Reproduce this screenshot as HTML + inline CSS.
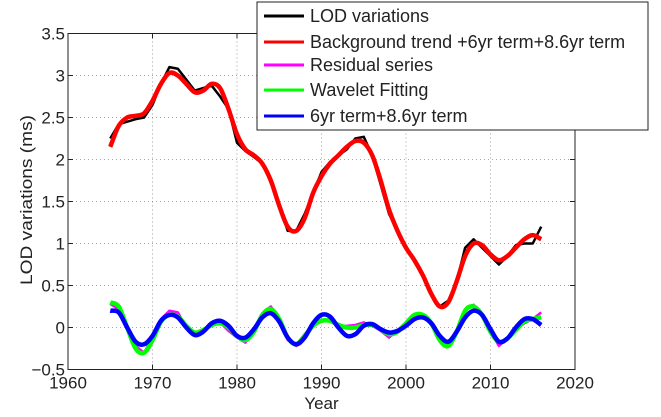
<!DOCTYPE html>
<html><head><meta charset="utf-8"><style>
body{margin:0;background:#fff;}
svg text{font-family:"Liberation Sans",sans-serif;fill:#222;}
</style></head><body>
<svg id="c" width="661" height="412"></svg>
<script>
const years=[];for(let y=1965;y<=2016;y++)years.push(y);
const lod=[2.25,2.42,2.45,2.48,2.5,2.65,2.9,3.1,3.08,2.95,2.82,2.85,2.88,2.75,2.6,2.2,2.1,2.03,1.95,1.75,1.45,1.15,1.15,1.35,1.6,1.85,1.97,2.05,2.12,2.25,2.27,2.05,1.7,1.35,1.15,0.95,0.8,0.6,0.38,0.25,0.32,0.55,0.95,1.05,0.95,0.85,0.75,0.85,0.98,1.0,1.0,1.2];
const trend=[2.15,2.4,2.5,2.52,2.55,2.7,2.9,3.03,3.0,2.9,2.8,2.82,2.9,2.85,2.6,2.3,2.12,2.05,1.95,1.75,1.45,1.2,1.15,1.3,1.6,1.8,1.95,2.05,2.15,2.22,2.2,2.05,1.75,1.4,1.15,0.95,0.8,0.62,0.4,0.25,0.3,0.55,0.85,1.0,0.98,0.87,0.8,0.85,0.95,1.05,1.1,1.05];
const residual=[0.28,0.22,0.02,-0.22,-0.3,-0.12,0.1,0.2,0.18,0.0,-0.08,-0.02,0.02,0.06,-0.04,-0.12,-0.18,-0.03,0.17,0.25,0.1,-0.15,-0.22,-0.08,0.03,0.07,0.1,0.02,0.02,0.03,0.06,0.02,-0.04,-0.12,-0.03,0.06,0.16,0.14,0.03,-0.17,-0.2,-0.03,0.22,0.27,0.13,-0.05,-0.22,-0.12,-0.02,0.05,0.1,0.18];
const wavelet=[0.3,0.25,0.0,-0.25,-0.3,-0.15,0.07,0.15,0.13,0.02,-0.06,-0.03,0.03,0.05,0.0,-0.1,-0.15,-0.05,0.15,0.22,0.1,-0.12,-0.2,-0.1,0.02,0.08,0.08,0.03,0.0,0.0,0.03,0.03,-0.02,-0.08,-0.05,0.05,0.15,0.15,0.05,-0.15,-0.22,-0.05,0.2,0.25,0.15,-0.05,-0.17,-0.13,-0.03,0.07,0.1,0.12];
const terms=[0.2,0.18,0.0,-0.17,-0.2,-0.1,0.08,0.15,0.12,0.0,-0.09,-0.05,0.05,0.08,0.02,-0.1,-0.12,-0.02,0.12,0.17,0.07,-0.12,-0.2,-0.12,0.05,0.15,0.13,0.0,-0.1,-0.08,0.02,0.04,-0.02,-0.06,-0.04,0.02,0.1,0.12,0.05,-0.1,-0.17,-0.05,0.12,0.2,0.15,-0.02,-0.17,-0.13,0.0,0.1,0.1,0.03];
const xTicks=[1960,1970,1980,1990,2000,2010,2020];
const yTicks=[-0.5,0,0.5,1,1.5,2,2.5,3,3.5];
const yLabels=["\u22120.5","0","0.5","1","1.5","2","2.5","3","3.5"];
const legendNames=["LOD variations","Background trend +6yr term+8.6yr term","Residual series","Wavelet Fitting","6yr term+8.6yr term"];

const L=68,R=575,T=33.5,B=369.5;
const sx=v=>L+(v-1960)/60*(R-L);
const sy=v=>B-(v+0.5)/4*(B-T);
const svg=document.getElementById('c');
const NS='http://www.w3.org/2000/svg';
function mk(tag,at,parent){const e=document.createElementNS(NS,tag);for(const k in at)e.setAttribute(k,at[k]);(parent||svg).appendChild(e);return e;}

xTicks.forEach((t,i)=>{
 if(i>0&&i<xTicks.length-1){const g=mk('line',{x1:sx(t),x2:sx(t),y1:T,y2:B,stroke:'#888','stroke-width':0.8,'stroke-dasharray':'1,3'});
 
 }
 const tl=mk('text',{x:sx(t),y:B+19,'text-anchor':'middle','font-size':17});tl.textContent=t;
 
 
 mk('line',{x1:sx(t),x2:sx(t),y1:B,y2:B-5,stroke:'#222'});
 mk('line',{x1:sx(t),x2:sx(t),y1:T,y2:T+5,stroke:'#222'});
});
yTicks.forEach((t,i)=>{
 if(i>0&&i<yTicks.length-1){const g=mk('line',{x1:L,x2:R,y1:sy(t),y2:sy(t),stroke:'#888','stroke-width':0.8,'stroke-dasharray':'1,3'});
 
 }
 const tl=mk('text',{x:L-3,y:sy(t)+6,'text-anchor':'end','font-size':17});tl.textContent=yLabels[i];
 
 
 mk('line',{x1:L,x2:L+5,y1:sy(t),y2:sy(t),stroke:'#222'});
 mk('line',{x1:R,x2:R-5,y1:sy(t),y2:sy(t),stroke:'#222'});
});

function smoothPath(xs,ys){
 const p=xs.map((x,i)=>[sx(x),sy(ys[i])]);
 let d='M'+p[0][0]+','+p[0][1];
 for(let i=0;i<p.length-1;i++){
  const p0=p[i-1]||p[i],p1=p[i],p2=p[i+1],p3=p[i+2]||p2;
  d+=' C'+(p1[0]+(p2[0]-p0[0])/6)+','+(p1[1]+(p2[1]-p0[1])/6)+' '+(p2[0]-(p3[0]-p1[0])/6)+','+(p2[1]-(p3[1]-p1[1])/6)+' '+p2[0]+','+p2[1];
 }
 return d;
}
function linePath(xs,ys){return xs.map((x,i)=>(i?'L':'M')+sx(x)+','+sy(ys[i])).join(' ');}

const s1=mk('path',{d:linePath(years,lod),fill:'none',stroke:'#000','stroke-width':2.5,'stroke-linejoin':'round'});


const s2=mk('path',{d:smoothPath(years,trend),fill:'none',stroke:'#f00','stroke-width':4.5,'stroke-linejoin':'round'});


const s3=mk('path',{d:linePath(years,residual),fill:'none',stroke:'#f0f','stroke-width':2.5,'stroke-linejoin':'round'});


const s4=mk('path',{d:smoothPath(years,wavelet),fill:'none',stroke:'#0f0','stroke-width':4.5});


const s5=mk('path',{d:smoothPath(years,terms),fill:'none',stroke:'#00f','stroke-width':4.5});



const frame=mk('rect',{x:L,y:T,width:R-L,height:B-T,fill:'none',stroke:'#222','stroke-width':1});



const xt=mk('text',{x:(L+R)/2,y:409,'text-anchor':'middle','font-size':17});xt.textContent='Year';


const yt=mk('text',{x:0,y:0,'text-anchor':'middle','font-size':17,textLength:170,lengthAdjust:'spacingAndGlyphs',transform:'translate(32,200) rotate(-90)'});yt.textContent='LOD variations (ms)';



const lg=mk('g',{});


mk('rect',{x:257,y:2,width:391,height:128,fill:'#fff',stroke:'#222','stroke-width':1},lg);
const cols=['#000','#f00','#f0f','#0f0','#00f'];
const rowsY=[16,42,65,90,116];
legendNames.forEach((n,i)=>{
 const e=mk('g',{},lg);
 
 
 mk('line',{x1:264,x2:304,y1:rowsY[i],y2:rowsY[i],stroke:cols[i],'stroke-width':3},e);
 const t=mk('text',{x:310,y:rowsY[i]+6,'font-size':18},e);t.textContent=n;
});
</script>
</body></html>
